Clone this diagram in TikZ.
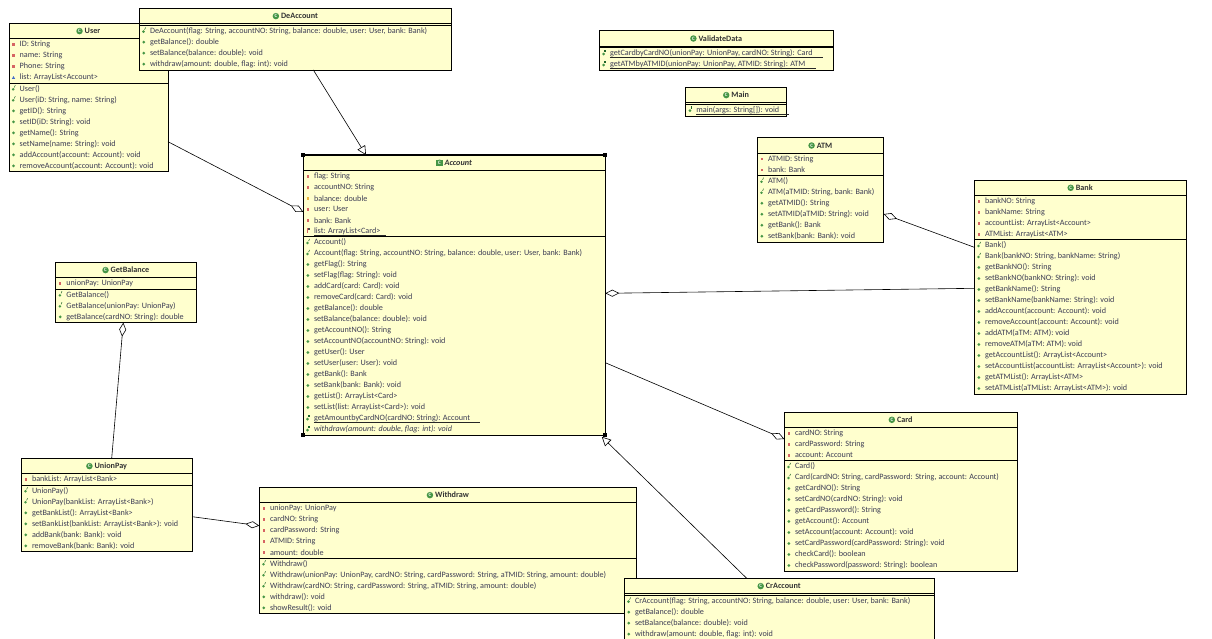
\documentclass[tikz,border=0pt]{standalone}
\usepackage{fontspec}
\setmainfont{Carlito}
\usetikzlibrary{arrows.meta,calc}
\definecolor{boxfill}{RGB}{255,255,206}
\definecolor{txt}{RGB}{60,60,84}
\definecolor{pred}{RGB}{214,100,100}
\definecolor{pyel}{RGB}{236,180,60}
\definecolor{pblue}{RGB}{70,110,200}
\definecolor{mgreen}{RGB}{70,150,70}
\definecolor{dgreen}{RGB}{30,100,40}
\tikzset{
  umlbox/.style={draw=black, fill=boxfill, line width=0.8pt, inner sep=0pt, outer sep=0pt, anchor=north west},
  member/.style={anchor=west, inner sep=0pt, font=\fontsize{8.15}{9}\selectfont, text=txt},
  ctitle/.style={inner sep=0pt, font=\fontsize{8.15}{9}\selectfont\bfseries, text=black!80},
  sepline/.style={draw=black, line width=0.8pt},
  link/.style={draw=black, line width=0.6pt},
  agg/.style={link, -{Diamond[fill=white, length=14pt, width=7pt, line width=0.6pt]}},
  gen/.style={link, -{Triangle[fill=white, length=9pt, width=9pt, line width=0.6pt]}},
  clsicon/.style={circle, fill=mgreen, inner sep=0pt, minimum size=6.5pt, text=white, font=\fontsize{5}{5}\selectfont\bfseries},
}
% member fonts
\def\umlfonta{}\def\umlfonty{}\def\umlfontp{}\def\umlfontsa{}
\def\umlfontc{}\def\umlfontm{}\def\umlfonts{}\def\umlfonti{\itshape}
% post (underline for static)
\def\umlposta{}\def\umlposty{}\def\umlpostp{}\def\umlpostc{}\def\umlpostm{}\def\umlposti{}
\def\umlposts{\draw[black!85, line width=0.6pt] ($(mm.base west)+(0,1.8)$) -- ($(mm.base east)+(10,1.8)$);}
\def\umlpostsa{\draw[black!85, line width=0.6pt] ($(mm.base west)+(0,1.8)$) -- ($(mm.base east)+(5,1.8)$);}
% icons
\newcommand\umlicona[2]{\fill[pred] ({#1-1.2},{#2-1.2}) rectangle ({#1+1.2},{#2+1.2});}
\newcommand\umlicony[2]{\fill[pyel] ({#1-1.2},{#2-1.2}) rectangle ({#1+1.2},{#2+1.2});}
\newcommand\umliconp[2]{\fill[pblue] ({#1-1.6},{#2+1.2}) -- ({#1+1.6},{#2+1.2}) -- ({#1},{#2-1.6}) -- cycle;}
\newcommand\umliconsa[2]{\fill[pred] ({#1-1},{#2-3}) rectangle ({#1+0.6},{#2+1.5});\fill[black!70] ({#1+0.6},{#2-3}) rectangle ({#1+1.8},{#2-1.8});}
\newcommand\umliconm[2]{\fill[mgreen] (#1,#2) circle (1.5pt);}
\newcommand\umliconc[2]{\fill[mgreen] ({#1-0.3},{#2+0.5}) circle (1.4pt);\draw[dgreen, line width=0.5pt] ({#1+0.8},{#2-1.4}) -- ({#1+1.8},{#2-3.6});}
\newcommand\umlicons[2]{\fill[mgreen] ({#1-0.3},{#2+0.5}) circle (1.5pt);\fill[dgreen] ({#1+0.6},{#2-3.8}) rectangle ({#1+2},{#2-1.6});}
\def\umliconi{\umlicons}
% class box: #1 name #2 x #3 y #4 w #5 title #6 nattr #7 attrs #8 nmeth #9 methods
\newcommand\umlclass[9]{%
  \pgfmathsetmacro\Lone{#3+15.3}%
  \ifnum#6=0 \pgfmathsetmacro\Sep{\Lone+1.8}\else\pgfmathsetmacro\Sep{\Lone+11*#6+0.5}\fi
  \pgfmathsetmacro\Hgt{\Sep+11*#8+0.5-#3}%
  \node[umlbox, minimum width=#4pt, minimum height=\Hgt pt] (#1) at (#2,#3) {};
  \node[ctitle] (#1-t) at ({#2+#4/2+4},{#3+7.8}) {#5};
  \node[clsicon] at ($(#1-t.west)+(-5,0)$) {C};
  \draw[sepline] (#2,\Lone) -- ++(#4,0);
  \draw[sepline] (#2,\Sep) -- ++(#4,0);
  \ifnum#6>0
  \foreach \mkind/\mtext [count=\mi] in {#7}{%
    \pgfmathsetmacro\yy{\Lone+6+11*(\mi-1)}%
    \node[member] (mm) at ({#2+10.5},\yy) {\csname umlfont\mkind\endcsname\mtext};
    \csname umlicon\mkind\endcsname{#2+4.5}{\yy}%
    \csname umlpost\mkind\endcsname
  }\fi
  \foreach \mkind/\mtext [count=\mi] in {#9}{%
    \pgfmathsetmacro\yy{\Sep+5.7+11*(\mi-1)}%
    \node[member] (mm) at ({#2+10.5},\yy) {\csname umlfont\mkind\endcsname\mtext};
    \csname umlicon\mkind\endcsname{#2+4.5}{\yy}%
    \csname umlpost\mkind\endcsname
  }%
}
\begin{document}
\begin{tikzpicture}[x=1pt,y=-1pt]
\fill[white] (0,0) rectangle (1212,638);
\useasboundingbox (0,0) rectangle (1212,638);

\umlclass{User}{9}{23.3}{159}{User}{4}{a/{ID: String}, a/{name: String}, a/{Phone: String}, p/{list: ArrayList<Account>}}{8}{c/{User()}, c/{User(iD: String, name: String)}, m/{getID(): String}, m/{setID(iD: String): void}, m/{getName(): String}, m/{setName(name: String): void}, m/{addAccount(account: Account): void}, m/{removeAccount(account: Account): void}}

\umlclass{DeAccount}{139.3}{8.3}{312.4}{DeAccount}{0}{}{4}{c/{DeAccount(flag: String, accountNO: String, balance: double, user: User, bank: Bank)}, m/{getBalance(): double}, m/{setBalance(balance: double): void}, m/{withdraw(amount: double, flag: int): void}}

\umlclass{Account}{303.3}{155}{302}{\itshape Account}{6}{a/{flag: String}, a/{accountNO: String}, y/{balance: double}, a/{user: User}, a/{bank: Bank}, sa/{list: ArrayList<Card>}}{18}{c/{Account()}, c/{Account(flag: String, accountNO: String, balance: double, user: User, bank: Bank)}, m/{getFlag(): String}, m/{setFlag(flag: String): void}, m/{addCard(card: Card): void}, m/{removeCard(card: Card): void}, m/{getBalance(): double}, m/{setBalance(balance: double): void}, m/{getAccountNO(): String}, m/{setAccountNO(accountNO: String): void}, m/{getUser(): User}, m/{setUser(user: User): void}, m/{getBank(): Bank}, m/{setBank(bank: Bank): void}, m/{getList(): ArrayList<Card>}, m/{setList(list: ArrayList<Card>): void}, s/{getAmountbyCardNO(cardNO: String): Account}, i/{withdraw(amount: double, flag: int): void}}
\node[fill=mgreen, inner sep=0pt, minimum width=7pt, minimum height=6pt, text=white, font=\fontsize{5}{5}\selectfont\bfseries] at ($(Account-t.west)+(-5,0)$) {C};
\draw[line width=1.6pt] (Account.north west) rectangle (Account.south east);
\foreach \cn in {north west, north east, south west, south east}{\fill (Account.\cn) +(-2,-2) rectangle +(2,2);}

\umlclass{ValidateData}{599.3}{30.7}{234}{ValidateData}{0}{}{2}{s/{getCardbyCardNO(unionPay: UnionPay, cardNO: String): Card}, s/{getATMbyATMID(unionPay: UnionPay, ATMID: String): ATM}}

\umlclass{Main}{685.7}{87.3}{101}{Main}{0}{}{1}{s/{main(args: String[]): void}}

\umlclass{ATM}{757.3}{137.7}{126.4}{ATM}{2}{a/{ATMID: String}, a/{bank: Bank}}{6}{c/{ATM()}, c/{ATM(aTMID: String, bank: Bank)}, m/{getATMID(): String}, m/{setATMID(aTMID: String): void}, m/{getBank(): Bank}, m/{setBank(bank: Bank): void}}

\umlclass{Bank}{974.3}{180}{212}{Bank}{4}{a/{bankNO: String}, a/{bankName: String}, a/{accountList: ArrayList<Account>}, a/{ATMList: ArrayList<ATM>}}{14}{c/{Bank()}, c/{Bank(bankNO: String, bankName: String)}, m/{getBankNO(): String}, m/{setBankNO(bankNO: String): void}, m/{getBankName(): String}, m/{setBankName(bankName: String): void}, m/{addAccount(account: Account): void}, m/{removeAccount(account: Account): void}, m/{addATM(aTM: ATM): void}, m/{removeATM(aTM: ATM): void}, m/{getAccountList(): ArrayList<Account>}, m/{setAccountList(accountList: ArrayList<Account>): void}, m/{getATMList(): ArrayList<ATM>}, m/{setATMList(aTMList: ArrayList<ATM>): void}}

\umlclass{GetBalance}{55.7}{262.3}{140.6}{GetBalance}{1}{a/{unionPay: UnionPay}}{3}{c/{GetBalance()}, c/{GetBalance(unionPay: UnionPay)}, m/{getBalance(cardNO: String): double}}

\umlclass{UnionPay}{21.3}{458.3}{171}{UnionPay}{1}{a/{bankList: ArrayList<Bank>}}{6}{c/{UnionPay()}, c/{UnionPay(bankList: ArrayList<Bank>)}, m/{getBankList(): ArrayList<Bank>}, m/{setBankList(bankList: ArrayList<Bank>): void}, m/{addBank(bank: Bank): void}, m/{removeBank(bank: Bank): void}}

\umlclass{Withdraw}{259.3}{487.3}{377.4}{Withdraw}{5}{a/{unionPay: UnionPay}, a/{cardNO: String}, a/{cardPassword: String}, a/{ATMID: String}, a/{amount: double}}{5}{c/{Withdraw()}, c/{Withdraw(unionPay: UnionPay, cardNO: String, cardPassword: String, aTMID: String, amount: double)}, c/{Withdraw(cardNO: String, cardPassword: String, aTMID: String, amount: double)}, m/{withdraw(): void}, m/{showResult(): void}}

\umlclass{Card}{784.3}{412}{233}{Card}{3}{a/{cardNO: String}, a/{cardPassword: String}, a/{account: Account}}{10}{c/{Card()}, c/{Card(cardNO: String, cardPassword: String, account: Account)}, m/{getCardNO(): String}, m/{setCardNO(cardNO: String): void}, m/{getCardPassword(): String}, m/{getAccount(): Account}, m/{setAccount(account: Account): void}, m/{setCardPassword(cardPassword: String): void}, m/{checkCard(): boolean}, m/{checkPassword(password: String): boolean}}

\umlclass{CrAccount}{624.3}{578.3}{310}{CrAccount}{0}{}{4}{c/{CrAccount(flag: String, accountNO: String, balance: double, user: User, bank: Bank)}, m/{getBalance(): double}, m/{setBalance(balance: double): void}, m/{withdraw(amount: double, flag: int): void}}

% connector end points
\coordinate (ua1) at ($(User.north east)+(0,118.4)$);
\coordinate (ua2) at ($(Account.north west)+(0,57)$);
\coordinate (da1) at ($(DeAccount.south west)+(174,0)$);
\coordinate (da2) at ($(Account.north west)+(62.7,0)$);
\coordinate (ba1) at ($(Bank.north west)+(0,67.3)$);
\coordinate (ba2) at ($(ATM.north east)+(0,76.3)$);
\coordinate (bc1) at ($(Bank.north west)+(0,108.3)$);
\coordinate (bc2) at ($(Account.north east)+(0,138.3)$);
\coordinate (ac1) at ($(Account.north east)+(0,207.7)$);
\coordinate (ac2) at ($(Card.north west)+(0,27)$);
\coordinate (cr1) at ($(CrAccount.north west)+(122.4,0)$);
\coordinate (cr2) at ($(Account.south east)+(-3.5,1.5)$);
\coordinate (ug1) at ($(UnionPay.north west)+(90.4,0)$);
\coordinate (ug2) at ($(GetBalance.south west)+(67.6,0)$);
\coordinate (uw1) at ($(UnionPay.north east)+(0,58.4)$);
\coordinate (uw2) at ($(Withdraw.north west)+(0,38.4)$);

\draw[agg] (ua1) -- (ua2);
\draw[gen] (da1) -- (da2);
\draw[agg] (ba1) -- (ba2);
\draw[agg] (bc1) -- (bc2);
\draw[agg] (ac1) -- (ac2);
\draw[gen] (cr1) -- (cr2);
\draw[agg] (ug1) -- (ug2);
\draw[agg] (uw1) -- (uw2);
\end{tikzpicture}
\end{document}
